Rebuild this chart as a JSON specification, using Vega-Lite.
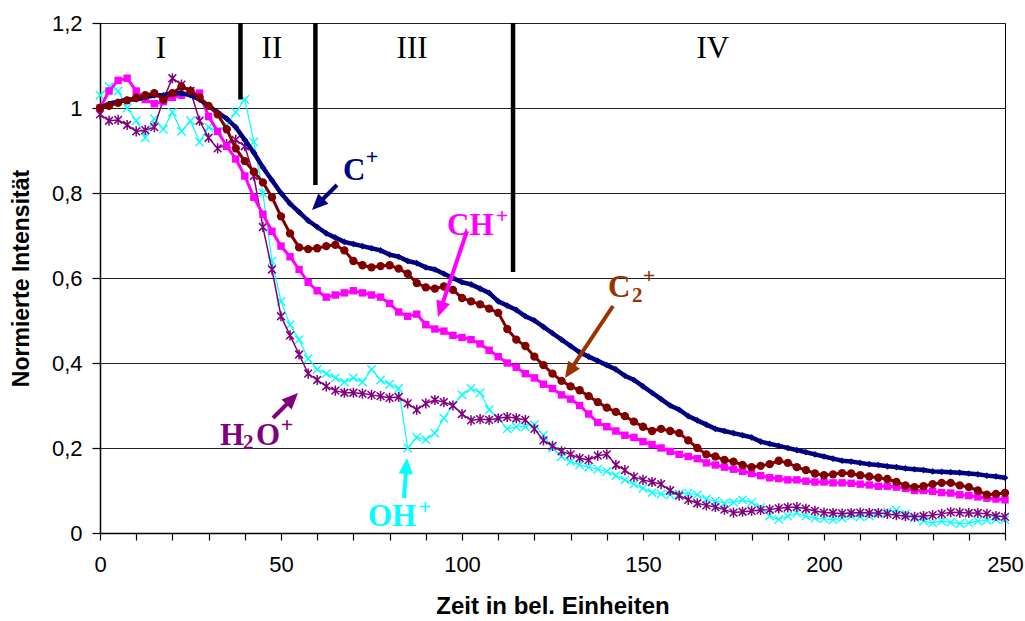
{
  "$schema": "https://vega.github.io/schema/vega-lite/v6.json",
  "width": 905,
  "height": 510,
  "autosize": "none",
  "padding": {"left": 100, "top": 23, "right": 20, "bottom": 88},
  "background": "white",
  "config": {
    "view": {"stroke": "black", "strokeWidth": 1},
    "axis": {"domainColor": "black", "tickColor": "black", "labelColor": "black", "titleColor": "black", "labelFont": "Liberation Sans", "titleFont": "Liberation Sans"}
  },
  "datasets": {
    "series": [
      {"x":0,"a":1.0,"b":1.0,"c":1.0,"d":0.985,"e":1.03},
      {"x":2.5,"a":1.01,"b":1.04,"c":1.005,"d":0.97,"e":1.05},
      {"x":5,"a":1.015,"b":1.065,"c":1.012,"d":0.972,"e":1.04},
      {"x":7.5,"a":1.02,"b":1.07,"c":1.018,"d":0.96,"e":1.0},
      {"x":10,"a":1.02,"b":1.04,"c":1.024,"d":0.945,"e":0.97},
      {"x":12.5,"a":1.025,"b":1.02,"c":1.03,"d":0.948,"e":0.93},
      {"x":15,"a":1.03,"b":1.01,"c":1.035,"d":0.955,"e":0.975},
      {"x":17.5,"a":1.03,"b":1.015,"c":1.02,"d":1.02,"e":0.95},
      {"x":20,"a":1.035,"b":1.025,"c":1.035,"d":1.07,"e":0.99},
      {"x":22.5,"a":1.035,"b":1.03,"c":1.05,"d":1.055,"e":0.945},
      {"x":25,"a":1.03,"b":1.035,"c":1.04,"d":1.04,"e":0.97},
      {"x":27.5,"a":1.02,"b":1.035,"c":1.025,"d":0.97,"e":0.92},
      {"x":30,"a":1.005,"b":0.98,"c":1.005,"d":0.93,"e":0.955},
      {"x":32.5,"a":0.99,"b":0.945,"c":0.985,"d":0.905,"e":0.945},
      {"x":35,"a":0.975,"b":0.91,"c":0.95,"d":0.915,"e":0.96},
      {"x":37.5,"a":0.955,"b":0.88,"c":0.905,"d":0.925,"e":0.99},
      {"x":40,"a":0.925,"b":0.84,"c":0.875,"d":0.91,"e":1.02},
      {"x":42.5,"a":0.895,"b":0.79,"c":0.85,"d":0.84,"e":0.92},
      {"x":45,"a":0.86,"b":0.75,"c":0.825,"d":0.72,"e":0.8},
      {"x":47.5,"a":0.83,"b":0.71,"c":0.79,"d":0.62,"e":0.64},
      {"x":50,"a":0.8,"b":0.675,"c":0.745,"d":0.51,"e":0.545},
      {"x":52.5,"a":0.775,"b":0.65,"c":0.705,"d":0.465,"e":0.49},
      {"x":55,"a":0.755,"b":0.62,"c":0.672,"d":0.42,"e":0.455},
      {"x":57.5,"a":0.735,"b":0.59,"c":0.668,"d":0.375,"e":0.41},
      {"x":60,"a":0.72,"b":0.57,"c":0.67,"d":0.36,"e":0.385},
      {"x":62.5,"a":0.705,"b":0.555,"c":0.675,"d":0.345,"e":0.375},
      {"x":65,"a":0.695,"b":0.56,"c":0.678,"d":0.335,"e":0.365},
      {"x":67.5,"a":0.685,"b":0.565,"c":0.665,"d":0.33,"e":0.355},
      {"x":70,"a":0.68,"b":0.57,"c":0.64,"d":0.33,"e":0.365},
      {"x":72.5,"a":0.675,"b":0.565,"c":0.63,"d":0.328,"e":0.355},
      {"x":75,"a":0.67,"b":0.56,"c":0.625,"d":0.325,"e":0.385},
      {"x":77.5,"a":0.665,"b":0.555,"c":0.628,"d":0.322,"e":0.36},
      {"x":80,"a":0.655,"b":0.54,"c":0.63,"d":0.318,"e":0.35},
      {"x":82.5,"a":0.65,"b":0.52,"c":0.622,"d":0.32,"e":0.34},
      {"x":85,"a":0.64,"b":0.51,"c":0.61,"d":0.305,"e":0.2},
      {"x":87.5,"a":0.635,"b":0.515,"c":0.588,"d":0.29,"e":0.225},
      {"x":90,"a":0.625,"b":0.49,"c":0.578,"d":0.305,"e":0.22},
      {"x":92.5,"a":0.62,"b":0.48,"c":0.575,"d":0.313,"e":0.235},
      {"x":95,"a":0.61,"b":0.475,"c":0.58,"d":0.308,"e":0.27},
      {"x":97.5,"a":0.6,"b":0.465,"c":0.572,"d":0.3,"e":0.3},
      {"x":100,"a":0.59,"b":0.46,"c":0.553,"d":0.28,"e":0.325},
      {"x":102.5,"a":0.585,"b":0.455,"c":0.545,"d":0.265,"e":0.34},
      {"x":105,"a":0.575,"b":0.445,"c":0.538,"d":0.268,"e":0.33},
      {"x":107.5,"a":0.565,"b":0.43,"c":0.528,"d":0.266,"e":0.29},
      {"x":110,"a":0.545,"b":0.415,"c":0.518,"d":0.27,"e":0.27},
      {"x":112.5,"a":0.535,"b":0.4,"c":0.48,"d":0.273,"e":0.245},
      {"x":115,"a":0.525,"b":0.39,"c":0.455,"d":0.27,"e":0.25},
      {"x":117.5,"a":0.51,"b":0.375,"c":0.44,"d":0.266,"e":0.25},
      {"x":120,"a":0.5,"b":0.365,"c":0.415,"d":0.245,"e":0.255},
      {"x":122.5,"a":0.485,"b":0.35,"c":0.395,"d":0.218,"e":0.23},
      {"x":125,"a":0.47,"b":0.34,"c":0.375,"d":0.205,"e":0.2},
      {"x":127.5,"a":0.455,"b":0.325,"c":0.358,"d":0.192,"e":0.18},
      {"x":130,"a":0.44,"b":0.315,"c":0.345,"d":0.185,"e":0.168},
      {"x":132.5,"a":0.425,"b":0.3,"c":0.336,"d":0.176,"e":0.16},
      {"x":135,"a":0.415,"b":0.28,"c":0.322,"d":0.172,"e":0.155},
      {"x":137.5,"a":0.405,"b":0.26,"c":0.308,"d":0.182,"e":0.15},
      {"x":140,"a":0.395,"b":0.25,"c":0.295,"d":0.185,"e":0.145},
      {"x":142.5,"a":0.385,"b":0.24,"c":0.285,"d":0.16,"e":0.135},
      {"x":145,"a":0.37,"b":0.23,"c":0.275,"d":0.148,"e":0.125},
      {"x":147.5,"a":0.36,"b":0.225,"c":0.262,"d":0.132,"e":0.115},
      {"x":150,"a":0.345,"b":0.215,"c":0.25,"d":0.125,"e":0.105},
      {"x":152.5,"a":0.33,"b":0.208,"c":0.24,"d":0.12,"e":0.095},
      {"x":155,"a":0.315,"b":0.2,"c":0.245,"d":0.115,"e":0.092},
      {"x":157.5,"a":0.3,"b":0.192,"c":0.24,"d":0.1,"e":0.09},
      {"x":160,"a":0.29,"b":0.185,"c":0.235,"d":0.088,"e":0.092},
      {"x":162.5,"a":0.275,"b":0.18,"c":0.218,"d":0.078,"e":0.094},
      {"x":165,"a":0.265,"b":0.175,"c":0.2,"d":0.07,"e":0.09},
      {"x":167.5,"a":0.255,"b":0.165,"c":0.185,"d":0.065,"e":0.08},
      {"x":170,"a":0.245,"b":0.16,"c":0.18,"d":0.061,"e":0.075},
      {"x":172.5,"a":0.24,"b":0.155,"c":0.172,"d":0.055,"e":0.07},
      {"x":175,"a":0.235,"b":0.15,"c":0.168,"d":0.048,"e":0.072},
      {"x":177.5,"a":0.23,"b":0.145,"c":0.16,"d":0.05,"e":0.078},
      {"x":180,"a":0.225,"b":0.14,"c":0.155,"d":0.052,"e":0.072},
      {"x":182.5,"a":0.215,"b":0.135,"c":0.158,"d":0.054,"e":0.06},
      {"x":185,"a":0.21,"b":0.13,"c":0.162,"d":0.055,"e":0.04},
      {"x":187.5,"a":0.205,"b":0.128,"c":0.17,"d":0.058,"e":0.032},
      {"x":190,"a":0.2,"b":0.125,"c":0.165,"d":0.06,"e":0.04},
      {"x":192.5,"a":0.195,"b":0.125,"c":0.155,"d":0.061,"e":0.047},
      {"x":195,"a":0.19,"b":0.122,"c":0.148,"d":0.057,"e":0.04},
      {"x":197.5,"a":0.185,"b":0.12,"c":0.14,"d":0.052,"e":0.035},
      {"x":200,"a":0.18,"b":0.12,"c":0.136,"d":0.048,"e":0.033},
      {"x":202.5,"a":0.175,"b":0.118,"c":0.138,"d":0.047,"e":0.031},
      {"x":205,"a":0.17,"b":0.118,"c":0.141,"d":0.046,"e":0.035},
      {"x":207.5,"a":0.168,"b":0.117,"c":0.14,"d":0.047,"e":0.04},
      {"x":210,"a":0.165,"b":0.115,"c":0.136,"d":0.048,"e":0.038},
      {"x":212.5,"a":0.162,"b":0.113,"c":0.133,"d":0.047,"e":0.04},
      {"x":215,"a":0.16,"b":0.11,"c":0.13,"d":0.047,"e":0.045},
      {"x":217.5,"a":0.157,"b":0.11,"c":0.127,"d":0.045,"e":0.05},
      {"x":220,"a":0.155,"b":0.108,"c":0.12,"d":0.042,"e":0.054},
      {"x":222.5,"a":0.152,"b":0.105,"c":0.112,"d":0.04,"e":0.045},
      {"x":225,"a":0.15,"b":0.1,"c":0.108,"d":0.038,"e":0.035},
      {"x":227.5,"a":0.148,"b":0.1,"c":0.11,"d":0.04,"e":0.028},
      {"x":230,"a":0.145,"b":0.098,"c":0.115,"d":0.042,"e":0.024},
      {"x":232.5,"a":0.144,"b":0.095,"c":0.118,"d":0.045,"e":0.028},
      {"x":235,"a":0.143,"b":0.094,"c":0.118,"d":0.049,"e":0.025},
      {"x":237.5,"a":0.142,"b":0.09,"c":0.112,"d":0.048,"e":0.022},
      {"x":240,"a":0.14,"b":0.088,"c":0.108,"d":0.047,"e":0.024},
      {"x":242.5,"a":0.138,"b":0.085,"c":0.1,"d":0.047,"e":0.028},
      {"x":245,"a":0.135,"b":0.082,"c":0.09,"d":0.045,"e":0.03},
      {"x":247.5,"a":0.133,"b":0.08,"c":0.092,"d":0.04,"e":0.032},
      {"x":250,"a":0.13,"b":0.078,"c":0.094,"d":0.038,"e":0.031}
    ],
    "dividers": [
      {"x": 38.8, "y": 1.2, "y2": 1.02},
      {"x": 59.5, "y": 1.2, "y2": 0.819},
      {"x": 114.1, "y": 1.2, "y2": 0.614}
    ],
    "regions": [
      {"t": "I", "x": 16.8, "y": 1.118},
      {"t": "II", "x": 47.5, "y": 1.118},
      {"t": "III", "x": 86.2, "y": 1.118},
      {"t": "IV", "x": 169.3, "y": 1.118}
    ],
    "arrows": [
      {"g": "C+", "x": 65.47, "y": 0.8188, "x2": 60.22, "y2": 0.7741},
      {"g": "CH+", "x": 101.38, "y": 0.7106, "x2": 94.42, "y2": 0.535},
      {"g": "C2+", "x": 141.71, "y": 0.5341, "x2": 130.3, "y2": 0.388},
      {"g": "H2O+", "x": 47.79, "y": 0.2706, "x2": 52.35, "y2": 0.3094},
      {"g": "OH+", "x": 83.98, "y": 0.0824, "x2": 84.56, "y2": 0.1482}
    ],
    "heads": [
      {"g": "C+", "x": 58.56, "y": 0.76, "a": 225},
      {"g": "CH+", "x": 93.37, "y": 0.5082, "a": 198.7},
      {"g": "C2+", "x": 128.45, "y": 0.3647, "a": 214.1},
      {"g": "H2O+", "x": 54.7, "y": 0.3294, "a": 45},
      {"g": "OH+", "x": 84.81, "y": 0.1765, "a": 4.3}
    ],
    "mainText": [
      {"g": "C+", "t": "C", "x": 67.13, "y": 0.8306},
      {"g": "CH+", "t": "CH", "x": 95.86, "y": 0.701},
      {"g": "C2+", "t": "C", "x": 140.33, "y": 0.5553},
      {"g": "H2O+", "t": "H", "x": 33.15, "y": 0.207},
      {"g": "H2O+", "t": "O", "x": 43.09, "y": 0.207},
      {"g": "OH+", "t": "OH", "x": 74.03, "y": 0.0165}
    ],
    "supText": [
      {"g": "C+", "t": "+", "x": 75.14, "y": 0.868},
      {"g": "CH+", "t": "+", "x": 111.05, "y": 0.729},
      {"g": "C2+", "t": "+", "x": 151.66, "y": 0.588},
      {"g": "H2O+", "t": "+", "x": 51.66, "y": 0.2376},
      {"g": "OH+", "t": "+", "x": 89.78, "y": 0.0447}
    ],
    "subText": [
      {"g": "C2+", "t": "2", "x": 146.96, "y": 0.5435},
      {"g": "H2O+", "t": "2", "x": 39.5, "y": 0.1976}
    ]
  },
  "encoding": {
    "x": {"field": "x", "type": "quantitative", "title": "Zeit in bel. Einheiten", "scale": {"domain": [0, 250], "nice": false},
      "axis": {"values": [0,10,20,30,40,50,60,70,80,90,100,110,120,130,140,150,160,170,180,190,200,210,220,230,240,250],
        "labelExpr": "datum.value % 50 === 0 ? datum.label : ''", "labelOverlap": false, "labelFlush": false,
        "grid": false, "tickSize": 7, "tickWidth": 1.2, "domainWidth": 1.5, "labelFontSize": 22, "labelPadding": 14,
        "titleFontSize": 24, "titleFontWeight": "bold", "titlePadding": 19}},
    "y": {"field": "y", "type": "quantitative", "title": "Normierte Intensität", "scale": {"domain": [0, 1.2], "nice": false},
      "axis": {"values": [0, 0.2, 0.4, 0.6, 0.8, 1, 1.2],
        "labelExpr": "replace(format(datum.value, '.1~f'), '.', ',')",
        "grid": true, "gridColor": "#222", "gridWidth": 1.2, "tickSize": 8, "tickWidth": 1.2, "domainWidth": 1.5,
        "labelFontSize": 22, "labelPadding": 10,
        "titleFontSize": 23, "titleFontWeight": "bold", "titlePadding": 18}}
  },
  "layer": [
    {
      "data": {"name": "series"},
      "transform": [{"fold": ["a", "b", "c", "d", "e"], "as": ["s", "y"]}, {"filter": "datum.s === 'e'"}],
      "layer": [
        {"mark": {"type": "line", "color": "#00FFFF", "strokeWidth": 1.2}},
        {"mark": {"type": "point", "shape": "M-1,-1L1,1M-1,1L1,-1", "filled": false, "color": "#00FFFF", "size": 70, "strokeWidth": 1.3, "opacity": 1}}
      ]
    },
    {
      "data": {"name": "series"},
      "transform": [{"fold": ["a", "b", "c", "d", "e"], "as": ["s", "y"]}, {"filter": "datum.s === 'd'"}],
      "layer": [
        {"mark": {"type": "line", "color": "#800080", "strokeWidth": 1.5}},
        {"mark": {"type": "point", "shape": "M-1,-1L1,1M-1,1L1,-1M0,-1.3L0,1.3", "filled": false, "color": "#800080", "size": 60, "strokeWidth": 1.5, "opacity": 1}}
      ]
    },
    {
      "data": {"name": "series"},
      "transform": [{"fold": ["a", "b", "c", "d", "e"], "as": ["s", "y"]}, {"filter": "datum.s === 'b'"}],
      "layer": [
        {"mark": {"type": "line", "color": "#FF00FF", "strokeWidth": 3}},
        {"mark": {"type": "point", "shape": "square", "filled": true, "color": "#FF00FF", "size": 55, "opacity": 1}}
      ]
    },
    {
      "data": {"name": "series"},
      "transform": [{"fold": ["a", "b", "c", "d", "e"], "as": ["s", "y"]}, {"filter": "datum.s === 'a'"}],
      "layer": [
        {"mark": {"type": "line", "color": "#000080", "strokeWidth": 4.5}},
        {"mark": {"type": "point", "shape": "diamond", "filled": true, "color": "#000080", "size": 45, "opacity": 1}}
      ]
    },
    {
      "data": {"name": "series"},
      "transform": [{"fold": ["a", "b", "c", "d", "e"], "as": ["s", "y"]}, {"filter": "datum.s === 'c'"}],
      "layer": [
        {"mark": {"type": "line", "color": "#800000", "strokeWidth": 3}},
        {"mark": {"type": "point", "shape": "circle", "filled": true, "color": "#800000", "size": 70, "opacity": 1}}
      ]
    },
    {
      "data": {"name": "dividers"},
      "mark": {"type": "rule", "color": "black", "strokeWidth": 4.5},
      "encoding": {"y2": {"field": "y2"}}
    },
    {
      "data": {"name": "regions"},
      "mark": {"type": "text", "font": "Liberation Serif", "fontSize": 31, "align": "center", "baseline": "alphabetic", "color": "black"},
      "encoding": {"text": {"field": "t"}}
    },
    {
      "data": {"name": "arrows"},
      "mark": {"type": "rule", "strokeWidth": 4},
      "encoding": {
        "x2": {"field": "x2"},
        "y2": {"field": "y2"},
        "color": {"field": "g", "type": "nominal", "legend": null,
          "scale": {"domain": ["C+", "CH+", "C2+", "H2O+", "OH+"], "range": ["#000080", "#FF00FF", "#993300", "#800080", "#00FFFF"]}}
      }
    },
    {
      "data": {"name": "heads"},
      "mark": {"type": "point", "shape": "M0,0L0.75,1.7L-0.75,1.7Z", "filled": true, "size": 360, "opacity": 1},
      "encoding": {
        "angle": {"field": "a", "type": "quantitative", "scale": null},
        "color": {"field": "g", "type": "nominal", "legend": null,
          "scale": {"domain": ["C+", "CH+", "C2+", "H2O+", "OH+"], "range": ["#000080", "#FF00FF", "#993300", "#800080", "#00FFFF"]}}
      }
    },
    {
      "data": {"name": "mainText"},
      "mark": {"type": "text", "font": "Liberation Serif", "fontWeight": "bold", "fontSize": 31, "align": "left", "baseline": "alphabetic"},
      "encoding": {
        "text": {"field": "t"},
        "color": {"field": "g", "type": "nominal", "legend": null,
          "scale": {"domain": ["C+", "CH+", "C2+", "H2O+", "OH+"], "range": ["#000080", "#FF00FF", "#993300", "#800080", "#00FFFF"]}}
      }
    },
    {
      "data": {"name": "supText"},
      "mark": {"type": "text", "font": "Liberation Serif", "fontWeight": "bold", "fontSize": 22, "align": "center", "baseline": "alphabetic"},
      "encoding": {
        "text": {"field": "t"},
        "color": {"field": "g", "type": "nominal", "legend": null,
          "scale": {"domain": ["C+", "CH+", "C2+", "H2O+", "OH+"], "range": ["#000080", "#FF00FF", "#993300", "#800080", "#00FFFF"]}}
      }
    },
    {
      "data": {"name": "subText"},
      "mark": {"type": "text", "font": "Liberation Serif", "fontWeight": "bold", "fontSize": 21, "align": "left", "baseline": "alphabetic"},
      "encoding": {
        "text": {"field": "t"},
        "color": {"field": "g", "type": "nominal", "legend": null,
          "scale": {"domain": ["C+", "CH+", "C2+", "H2O+", "OH+"], "range": ["#000080", "#FF00FF", "#993300", "#800080", "#00FFFF"]}}
      }
    }
  ]
}
